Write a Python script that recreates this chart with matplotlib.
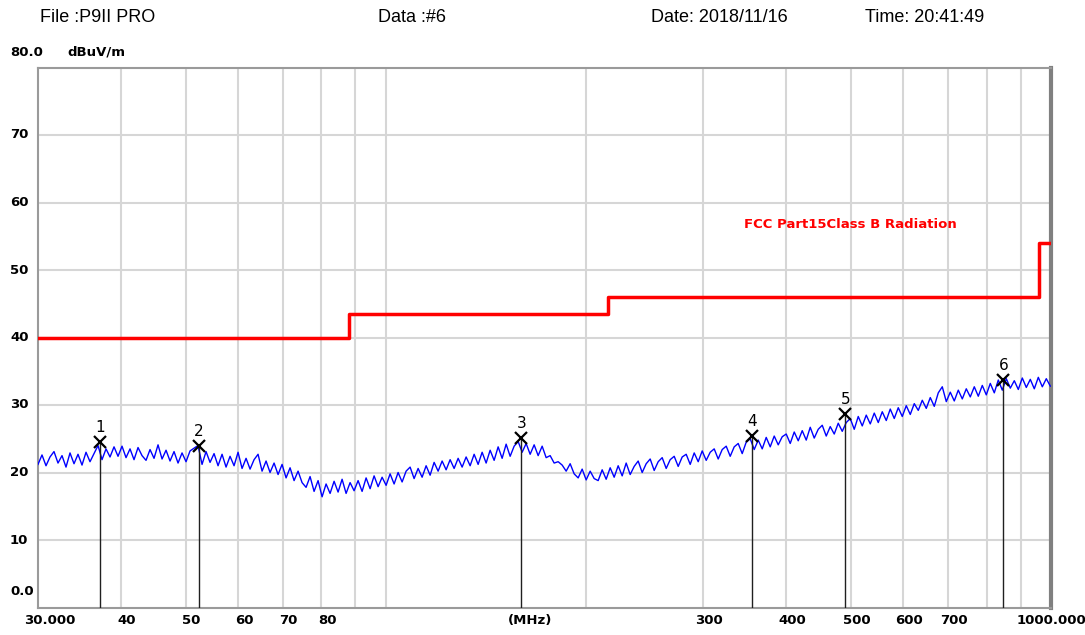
import numpy as np
import matplotlib
matplotlib.use("Agg")
import matplotlib.pyplot as plt

plt.rcParams['font.family'] = ['Liberation Sans', 'DejaVu Sans']

# header info
header = ["File :P9II PRO", "Data :#6", "Date: 2018/11/16", "Time: 20:41:49"]

# sweep definition (log sweep, MHz)
sweep_start = 30.0
sweep_stop = 997.6
trace_db = [
    21.2, 22.6, 21.0, 22.3, 23.1, 21.4, 22.5, 20.8, 22.9, 21.3, 22.7, 21.1, 23.0, 21.6, 22.8, 24.0, 21.9, 23.5, 22.3, 23.8,
    22.4, 23.9, 22.2, 23.5, 21.9, 23.7, 22.5, 21.8, 23.4, 22.1, 24.1, 22.0, 23.3, 21.7, 23.1, 21.4, 22.9, 21.6, 23.2, 23.6,
    24.0, 21.2, 23.1, 21.5, 22.8, 21.0, 22.7, 20.8, 22.4, 21.0, 23.0, 20.6, 22.1, 20.5, 21.9, 22.7, 20.2, 21.7, 20.0, 21.4,
    19.7, 21.2, 19.2, 20.7, 18.8, 20.2, 18.5, 17.8, 19.4, 17.2, 18.8, 16.4, 18.3, 16.9, 18.7, 17.1, 19.0, 16.9, 18.5, 17.3,
    18.8, 17.2, 19.2, 17.6, 19.5, 17.9, 19.3, 18.1, 19.8, 18.3, 20.0, 18.6, 20.2, 20.8, 19.1, 20.6, 19.3, 21.0, 19.6, 21.5,
    20.2, 21.7, 20.4, 21.9, 20.6, 22.1, 20.8, 22.3, 21.0, 22.7, 21.2, 23.0, 21.4, 23.3, 21.8, 23.8, 22.1, 24.2, 22.4, 23.9,
    24.6, 23.0, 24.3, 22.7, 24.1, 22.5, 23.9, 22.2, 22.5, 21.4, 21.6, 21.1, 20.2, 21.3, 19.8, 19.2, 20.5, 18.9, 20.2, 19.1,
    18.8, 20.4, 19.0, 20.7, 19.3, 21.0, 19.5, 21.4, 19.7, 20.9, 21.7, 20.0, 21.3, 22.0, 20.3, 21.6, 22.2, 20.6, 21.9, 22.4,
    20.9, 22.3, 22.7, 21.2, 22.9, 21.6, 23.2, 21.8, 23.0, 23.5, 22.0, 23.4, 23.9, 22.4, 23.8, 24.3, 22.8, 24.5, 25.0, 23.4,
    24.8, 23.5, 25.2, 23.8, 25.4, 24.1, 25.3, 25.7, 24.3, 26.0, 24.7, 26.2, 24.8, 26.7, 25.1, 26.4, 27.0, 25.4, 26.8, 25.7,
    27.3, 26.1, 27.4, 28.0, 26.4, 28.3, 26.9, 28.5, 27.2, 28.8, 27.4, 29.0, 27.7, 29.4, 28.0, 29.6, 28.3, 29.9, 28.6, 30.2,
    29.2, 30.7, 29.5, 31.1, 29.8, 31.8, 32.7, 30.5, 31.9, 30.6, 32.2, 30.9, 32.4, 31.2, 32.7, 31.3, 32.9, 31.5, 33.2, 31.8,
    33.7, 32.2, 33.9, 32.5, 33.6, 32.3, 34.0, 32.6, 33.8, 32.4, 34.1, 32.7, 33.9, 32.8,
]
trace_freq = np.geomspace(sweep_start, sweep_stop, len(trace_db))

# FCC Part 15 Class B limit
limit_freq = [30, 88, 216, 960, 1000]
limit_db = [40, 43.5, 46, 54, 54]
limit_label = "FCC Part15Class B Radiation"

# markers
marker_freq = [37.2, 52.4, 159.9, 355.5, 490.6, 847.8]
marker_db = [24.5, 23.9, 25.1, 25.4, 28.7, 33.7]

xtick_vals = [30, 40, 50, 60, 70, 80, 300, 400, 500, 600, 700, 1000]
xtick_txt = ["30.000", "40", "50", "60", "70", "80", "300", "400", "500", "600", "700", "1000.000"]
ytick_vals = [10, 20, 30, 40, 50, 60, 70]

lab_font = dict(family='DejaVu Sans', fontweight='bold', fontsize=9.5)

fig = plt.figure(figsize=(10.85, 6.35), dpi=100)
ax = fig.add_axes([38 / 1085, 27.5 / 635, 1013 / 1085, 540 / 635])
ax.set_xscale('log')
ax.set_xlim(30, 1000)
ax.set_ylim(0, 80)

# grid
grid_x = [40, 50, 60, 70, 80, 90, 100, 200, 300, 400, 500, 600, 700, 800, 900]
for gx in grid_x:
    ax.axvline(gx, color='#d6d6d6', lw=1.5, zorder=0)
for gy in ytick_vals:
    ax.axhline(gy, color='#d6d6d6', lw=1.5, zorder=0)

ax.set_xticks([])
ax.set_yticks([])
ax.minorticks_off()
for s in ['left', 'bottom', 'top']:
    ax.spines[s].set_color('#9a9a9a')
    ax.spines[s].set_linewidth(1.5)
ax.spines['right'].set_color('#808080')
ax.spines['right'].set_linewidth(3)

# limit line
ax.plot(limit_freq, limit_db, drawstyle='steps-post', color='#ff0000', lw=2.5, zorder=3)
ax.text(0.697, 0.71, limit_label, transform=ax.transAxes, color='#ff0000',
        ha='left', va='center', **lab_font)

# trace
ax.plot(trace_freq, trace_db, color='#0000ff', lw=1, zorder=4)

# markers
for i, (mf, md) in enumerate(zip(marker_freq, marker_db)):
    ax.plot([mf, mf], [0, md], color='#202020', lw=1, zorder=5)
    ax.plot(mf, md, marker='x', ms=8, mew=1.6, color='black', zorder=6)
    ax.text(mf, md + 1.0, str(i + 1), ha='center', va='bottom', fontsize=11,
            family='DejaVu Sans', color='black', zorder=6)

# y labels
for gy in ytick_vals:
    ax.text(-28 / 1013, gy / 80, str(gy), transform=ax.transAxes, ha='left', va='center', **lab_font)
ax.text(-28 / 1013, 2.3 / 80, "0.0", transform=ax.transAxes, ha='left', va='center', **lab_font)
ax.text(-28 / 1013, 1 + 15.5 / 540, "80.0", transform=ax.transAxes, ha='left', va='center', **lab_font)
ax.text(29 / 1013, 1 + 15.5 / 540, "dBuV/m", transform=ax.transAxes, ha='left', va='center', **lab_font)

# x labels
for xv, xt in zip(xtick_vals, xtick_txt):
    shift = 1.02
    if xv == 30:
        shift = 1.043
    elif xv == 1000:
        shift = 1.0
    ax.text(xv * shift, -13 / 540, xt, ha='center', va='center',
            transform=ax.get_xaxis_transform(), **lab_font)
ax.text(165, -13 / 540, "(MHz)", ha='center', va='center',
        transform=ax.get_xaxis_transform(), **lab_font)

# header
header_x = [40, 378, 651, 865]
for hx, ht in zip(header_x, header):
    fig.text(hx / 1085, 1 - 17 / 635, ht, ha='left', va='center', fontsize=13)

fig.savefig("out.png", dpi=100)
